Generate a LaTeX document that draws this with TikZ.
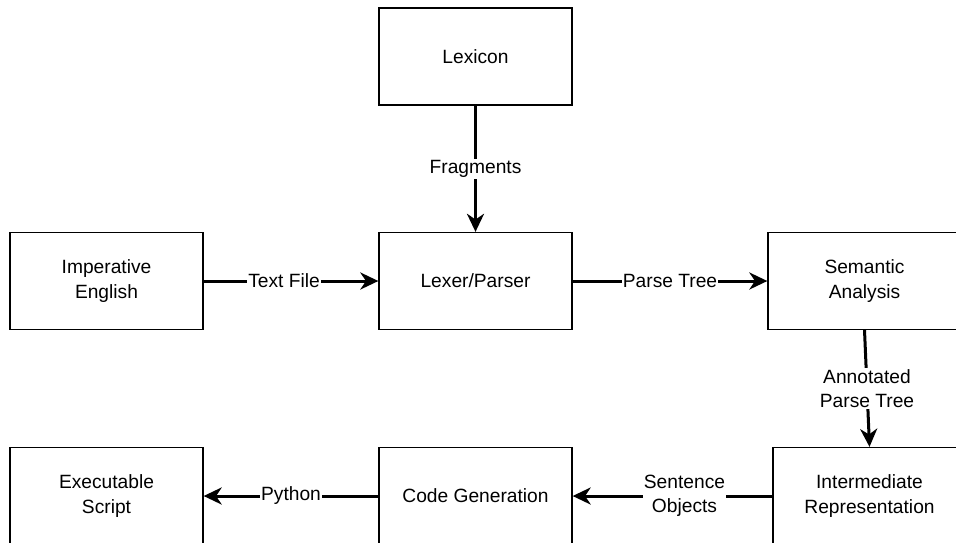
\documentclass[tikz,border=0pt]{standalone}
\usepackage{fontspec}
\setmainfont{Liberation Sans}
\usetikzlibrary{arrows.meta}

\tikzset{
  block/.style={draw, line width=0.65pt, fill=white, minimum width=96.5pt,
    minimum height=48.5pt, align=center, inner sep=0pt},
  flow/.style={line width=1.5pt, -{Stealth[length=9pt,width=8.5pt,inset=2.8pt]}},
  lbl/.style={fill=white, inner sep=0.6pt, align=center}
}

\begin{document}
\begin{tikzpicture}[x=0.5pt,y=-0.5pt,font=\fontsize{9.6}{12.2}\selectfont]
\useasboundingbox (0,0) rectangle (956,542);
\clip (0,0) rectangle (956,542);
% stages
\node[block] (lex) at (475.5,56.5) {Lexicon};
\node[block] (eng) at (106.5,281) {Imperative\\English};
\node[block] (par) at (475.5,281) {Lexer/Parser};
\node[block] (sem) at (864.5,281) {Semantic\\Analysis};
\node[block] (scr) at (106.5,496) {Executable\\Script};
\node[block] (gen) at (475.5,496) {Code Generation};
\node[block] (ir) at (869.5,496) {Intermediate\\Representation};
% data flow
\draw[flow] (lex) -- node[lbl] {Fragments} (par);
\draw[flow] (eng) -- node[lbl,pos=0.46] {Text File} (par);
\draw[flow] (par) -- node[lbl] {Parse Tree} (sem);
\draw[flow] (sem.south) -- node[lbl] {Annotated\\Parse Tree} (ir.north);
\draw[flow] (ir) -- node[lbl,pos=0.44] {Sentence\\Objects} (gen);
\draw[flow] (gen) -- node[lbl] {Python} (scr);
\end{tikzpicture}
\end{document}
